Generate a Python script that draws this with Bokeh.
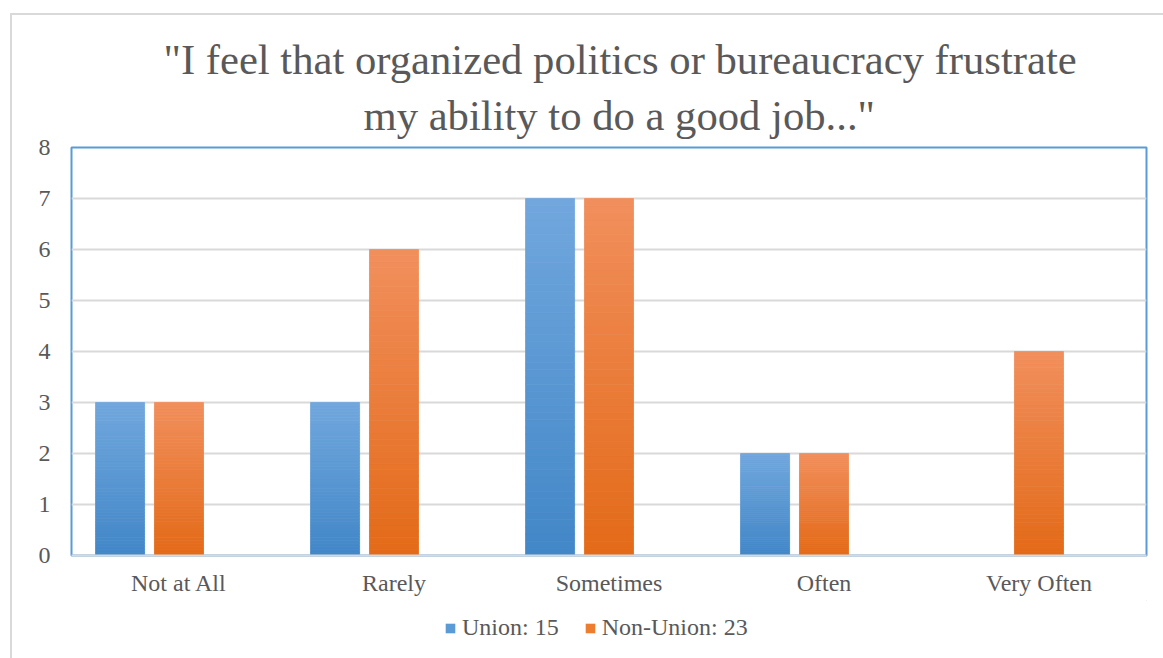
import numpy as np
from bokeh.plotting import figure
from bokeh.layouts import column
from bokeh.models import (ColumnDataSource, FactorRange, FixedTicker, Legend,
                          LegendItem, Range1d, Title)
from bokeh.transform import dodge
from bokeh.embed import file_html
from bokeh.resources import INLINE

# ---- data ----
categories = ["Not at All", "Rarely", "Sometimes", "Often", "Very Often"]
union = [3, 3, 7, 2, 0]
non_union = [3, 6, 7, 2, 4]
series_labels = ["Union: 15", "Non-Union: 23"]
series_colors = ["#5b9bd5", "#ed7d31"]
y_ticks = [0, 1, 2, 3, 4, 5, 6, 7, 8]
title_lines = ['"I feel that organized politics or bureaucracy frustrate',
               'my ability to do a good job..."']

FONT = "Liberation Serif"
TXT = "#595959"
GRID = "#d9d9d9"


def hexcol(rgb):
    return "#%02x%02x%02x" % tuple(int(round(c)) for c in rgb)


def gradient_source(values, top_rgb, bot_rgb, n=50):
    xs, bs, ts, cs = [], [], [], []
    for cat, v in zip(categories, values):
        for i in range(n):
            f = i / (n - 1)
            xs.append(cat)
            bs.append(v * i / n)
            ts.append(v * (i + 1) / n)
            cs.append(hexcol([b + (t - b) * f for b, t in zip(bot_rgb, top_rgb)]))
    return ColumnDataSource(dict(x=xs, bottom=bs, top=ts, color=cs))


p = figure(x_range=FactorRange(factors=categories, range_padding=0),
           y_range=Range1d(0, 8),
           width=1163, height=600,
           output_backend="svg", toolbar_location=None,
           min_border_left=71, min_border_right=17,
           min_border_top=147, min_border_bottom=45)
p.border_fill_alpha = 0
p.background_fill_color = "white"

p.title.visible = False
title_offsets = [92, 292]
title_standoffs = [-4, 18]
for line, off, so in reversed(list(zip(title_lines, title_offsets, title_standoffs))):
    t = Title(text=line, align="left", text_font=FONT, text_font_size="42.67px",
              text_font_style="normal", text_color=TXT, offset=off, standoff=so)
    p.add_layout(t, "above")

p.outline_line_color = "#5b9bd5"
p.outline_line_width = 2

BAR_W = 0.228
src_u = gradient_source(union, (113, 167, 221), (66, 135, 200))
src_n = gradient_source(non_union, (241, 143, 92), (227, 106, 24))
r_u = p.vbar(x=dodge("x", -0.274, range=p.x_range), bottom="bottom", top="top",
             width=BAR_W, fill_color="color", line_color="color", line_width=0.8,
             source=src_u)
r_n = p.vbar(x=dodge("x", 0.0, range=p.x_range), bottom="bottom", top="top",
             width=BAR_W, fill_color="color", line_color="color", line_width=0.8,
             source=src_n)

p.yaxis.ticker = FixedTicker(ticks=y_ticks)
p.ygrid.ticker = FixedTicker(ticks=y_ticks)
p.xgrid.grid_line_color = None
p.ygrid.grid_line_color = GRID
p.ygrid.grid_line_width = 2

for ax in (p.xaxis, p.yaxis):
    ax.major_tick_line_color = None
    ax.minor_tick_line_color = None
    ax.major_label_text_font = FONT
    ax.major_label_text_font_size = "24px"
    ax.major_label_text_color = TXT
p.yaxis.axis_line_color = None
p.yaxis.major_label_standoff = 15
p.xaxis.axis_line_color = GRID
p.xaxis.axis_line_width = 2
p.xaxis.major_label_standoff = 8

# ---- legend strip below the chart ----
leg = figure(width=1163, height=58, x_range=Range1d(0, 1), y_range=Range1d(0, 1),
             x_axis_type=None, y_axis_type=None,
             output_backend="svg", toolbar_location=None,
             min_border=0, min_border_left=0, min_border_right=0,
             min_border_top=0, min_border_bottom=0)
leg.grid.visible = False
leg.outline_line_color = None
leg.border_fill_alpha = 0
leg.background_fill_alpha = 0
# swatch renderers kept outside the visible range (only their legend glyphs show)
dummy = [leg.vbar(x=[5], top=[5], bottom=[4], width=0.1, fill_color=c, line_color=None)
         for c in series_colors]
legend = Legend(items=[LegendItem(label=lab, renderers=[r])
                       for lab, r in zip(series_labels, dummy)],
                orientation="horizontal", location=(373, 17),
                border_line_color=None, background_fill_alpha=0,
                glyph_width=12, glyph_height=12, label_height=24,
                label_standoff=6, spacing=25,
                label_text_font=FONT, label_text_font_size="24px",
                label_text_color=TXT, padding=0, margin=0)
leg.add_layout(legend, "center")

layout = column(p, leg, spacing=0, styles={
    "background": "linear-gradient(#d9d9d9,#d9d9d9) 10px 13px / 2px 800px no-repeat, "
                  "linear-gradient(#d9d9d9,#d9d9d9) 10px 13px / 1400px 2px no-repeat, white"})

open("out.html", "w").write(file_html(layout, INLINE))
